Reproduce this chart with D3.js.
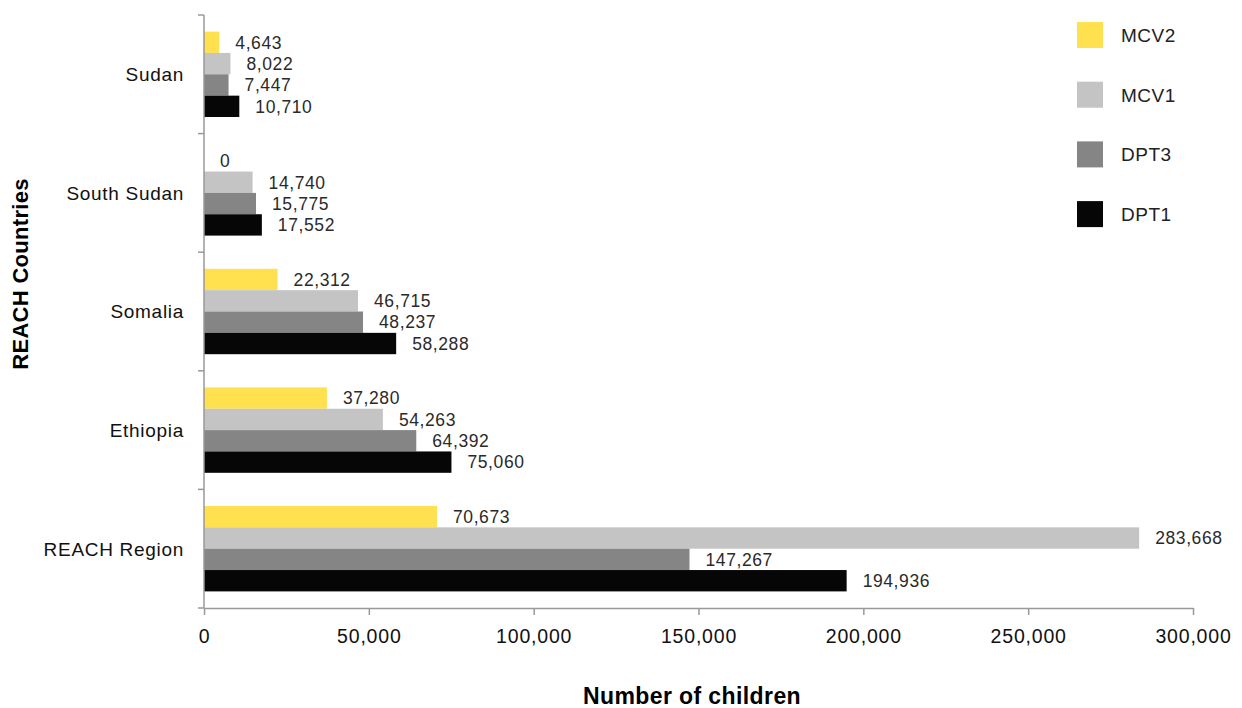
<!DOCTYPE html>
<html>
<head>
<meta charset="utf-8">
<script src="https://cdn.jsdelivr.net/npm/d3@7"></script>
<style>
  body { margin: 0; background: #fff; }
  svg { font-family: "Liberation Sans", Arial, sans-serif; }
</style>
</head>
<body>
<div class="chart"></div>
<script>
var countries = ["Sudan", "South Sudan", "Somalia", "Ethiopia", "REACH Region"];
var series = ["MCV2", "MCV1", "DPT3", "DPT1"];
var colors = ["#ffe04f", "#c4c4c4", "#858585", "#060606"];

var mcv2 = [4643, 0, 22312, 37280, 70673];
var mcv1 = [8022, 14740, 46715, 54263, 283668];
var dpt3 = [7447, 15775, 48237, 64392, 147267];
var dpt1 = [10710, 17552, 58288, 75060, 194936];
var values = [mcv2, mcv1, dpt3, dpt1];

var xTicks = [0, 50000, 100000, 150000, 200000, 250000, 300000];

var width = 1242, height = 708;
var margin = {left: 204, right: 49, top: 15, bottom: 100};

var svg = d3.select(".chart")
    .append("svg")
    .attr("width", width)
    .attr("height", height);

var x = d3.scaleLinear()
    .domain([0, 300000])
    .range([margin.left, width - margin.right]);

var y = d3.scaleBand()
    .domain(countries)
    .range([margin.top, height - margin.bottom])
    .paddingInner(0.28)
    .paddingOuter(0.14);

var ySub = d3.scaleBand()
    .domain(series)
    .range([0, y.bandwidth()]);

var fmt = d3.format(",");

// bars
var groups = svg.selectAll(".group")
    .data(countries)
    .enter().append("g")
    .attr("class", "group")
    .attr("transform", function(d) { return "translate(0," + y(d) + ")"; });

groups.each(function(c, ci) {
    var g = d3.select(this);
    series.forEach(function(s, si) {
        var v = values[si][ci];
        g.append("rect")
            .attr("x", x(0))
            .attr("y", ySub(s))
            .attr("width", x(v) - x(0))
            .attr("height", ySub.bandwidth())
            .style("fill", colors[si]);
        g.append("text")
            .attr("x", x(v) + 16)
            .attr("y", ySub(s) + ySub.bandwidth() / 2)
            .attr("dy", "0.36em")
            .style("font-size", "17.5px")
            .style("letter-spacing", "0.6px")
            .style("fill", "#2a2a2a")
            .text(fmt(v));
    });
});

// y axis line and boundary ticks
var yRange = y.range();
svg.append("line")
    .attr("x1", x(0)).attr("x2", x(0))
    .attr("y1", yRange[0]).attr("y2", yRange[1])
    .style("stroke", "#999").style("stroke-width", 1.5);

var bounds = d3.range(countries.length + 1).map(function(i) { return yRange[0] + i * (yRange[1] - yRange[0]) / countries.length; });
svg.selectAll(".ytick")
    .data(bounds)
    .enter().append("line")
    .attr("x1", x(0) - 6).attr("x2", x(0))
    .attr("y1", function(d) { return d; })
    .attr("y2", function(d) { return d; })
    .style("stroke", "#999").style("stroke-width", 1.5);

svg.selectAll(".ylabel")
    .data(countries)
    .enter().append("text")
    .attr("x", x(0) - 20)
    .attr("y", function(d) { return y(d) + y.bandwidth() / 2; })
    .attr("dy", "0.36em")
    .attr("text-anchor", "end")
    .style("font-size", "19px")
    .style("letter-spacing", "0.7px")
    .style("fill", "#111")
    .text(function(d) { return d; });

// x axis
var xAxis = svg.append("g")
    .attr("transform", "translate(0," + yRange[1] + ")")
    .call(d3.axisBottom(x).tickValues(xTicks).tickFormat(fmt).tickSize(7).tickSizeOuter(0));
xAxis.select(".domain").style("stroke", "#999").style("stroke-width", 1.5);
xAxis.selectAll(".tick line").style("stroke", "#999").style("stroke-width", 1.5);
xAxis.selectAll(".tick text")
    .attr("y", 21)
    .style("font-size", "19.5px")
    .style("letter-spacing", "0.8px")
    .style("font-family", "Liberation Sans, Arial, sans-serif")
    .style("fill", "#111");

// axis titles
svg.append("text")
    .attr("x", 692)
    .attr("y", 704)
    .attr("text-anchor", "middle")
    .style("font-size", "23px")
    .style("letter-spacing", "0.4px")
    .style("font-weight", "bold")
    .style("fill", "#000")
    .text("Number of children");

svg.append("text")
    .attr("transform", "translate(28," + 274 + ") rotate(-90)")
    .attr("text-anchor", "middle")
    .style("font-size", "22px")
    .style("letter-spacing", "0.3px")
    .style("font-weight", "bold")
    .style("fill", "#000")
    .text("REACH Countries");

// legend
var legend = svg.selectAll(".legend")
    .data(series)
    .enter().append("g")
    .attr("class", "legend")
    .attr("transform", function(d, i) { return "translate(1077," + (22 + i * 59.7) + ")"; });

legend.append("rect")
    .attr("width", 26).attr("height", 26)
    .style("fill", function(d, i) { return colors[i]; });

legend.append("text")
    .attr("x", 44).attr("y", 13)
    .attr("dy", "0.36em")
    .style("font-size", "19px")
    .style("letter-spacing", "0.5px")
    .style("fill", "#222")
    .text(function(d) { return d; });
</script>
</body>
</html>
